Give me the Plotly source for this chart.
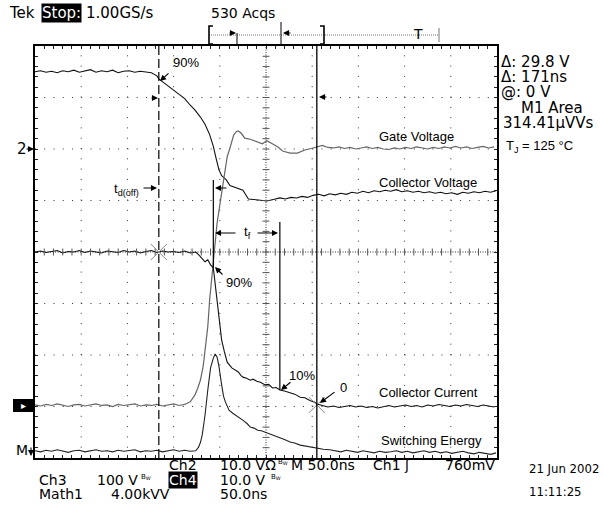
import plotly.graph_objects as go

# ---------------- data (time in ns from left edge, 50 ns/div; amplitude in divisions, 0 = bottom) ----
gate_t = [0, 6, 12, 18, 24, 30, 36, 42, 48, 54, 60, 66, 72, 78, 84, 90, 96, 102, 108, 114, 120, 126,
          132, 134, 140, 146, 151, 157, 162, 168, 173, 179, 184, 189, 193, 196, 199, 202, 207, 211, 218, 225,
          231, 239, 245, 251, 258, 265, 271, 277, 283, 289, 295,
          301, 307, 313, 319, 325, 331, 337, 343, 349, 355, 361, 367, 373, 379, 385, 391, 397, 403, 409, 415,
          421, 427, 433, 439, 445, 451, 457, 463, 469, 475, 481, 487, 493, 499]
gate_v = [7.50, 7.52, 7.49, 7.51, 7.48, 7.52, 7.50, 7.53, 7.49, 7.51, 7.54, 7.49, 7.52, 7.50, 7.53, 7.48,
          7.51, 7.52, 7.49, 7.51, 7.50, 7.48,
          7.42, 7.36, 7.28, 7.20, 7.14, 7.05, 6.98, 6.85, 6.76, 6.62, 6.48, 6.28, 6.05, 5.82, 5.60, 5.48,
          5.40, 5.29, 5.24, 5.20, 5.03, 5.01, 5.00, 4.99, 5.02, 5.05, 5.03, 5.06, 5.05, 5.08, 5.06,
          5.10, 5.12, 5.09, 5.13, 5.11, 5.14, 5.12, 5.16, 5.14, 5.18, 5.15, 5.19, 5.17, 5.20, 5.18, 5.21,
          5.17, 5.19, 5.16, 5.18, 5.15, 5.17, 5.14, 5.16, 5.13, 5.15, 5.12, 5.16, 5.14, 5.17, 5.15, 5.18,
          5.16, 5.19]

vce_t = [0, 6, 12, 18, 24, 30, 36, 42, 48, 54, 60, 66, 72, 78, 84, 90, 96, 102, 108, 114, 120, 126, 132,
         138, 144, 150, 156, 162,
         168, 173, 176, 179, 182, 184, 187, 189, 192, 195, 197, 200, 203, 206, 208, 211, 215, 218, 220, 223,
         227, 233, 240, 246, 251, 257, 263, 268, 276, 284, 292, 299,
         305, 311, 317, 323, 329, 335, 341, 347, 353, 359, 365, 371, 377, 383, 389, 395, 401, 407, 413, 419,
         425, 431, 437, 443, 449, 455, 461, 467, 473, 479, 485, 491, 497]
vce_v = [1.03, 1.01, 1.04, 1.02, 1.05, 1.02, 1.00, 1.03, 1.04, 1.01, 1.03, 1.05, 1.02, 1.03, 1.00, 1.04,
         1.02, 1.03, 1.05, 1.01, 1.03, 1.02, 1.04, 1.01, 1.03, 1.05, 1.02, 1.04,
         1.09, 1.22, 1.35, 1.51, 1.78, 2.10, 2.55, 3.07, 3.62, 4.14, 4.55, 4.91, 5.30, 5.63, 5.85, 6.02,
         6.27, 6.34, 6.35, 6.31, 6.21, 6.19, 6.14, 6.10, 6.16, 6.10, 6.04, 5.96, 5.92, 5.92, 5.98, 6.01,
         6.04, 6.07, 6.03, 6.02, 6.04, 6.01, 6.03, 6.00, 6.02, 6.04, 6.01, 6.03, 6.00, 5.99, 6.02, 6.00,
         6.03, 6.01, 6.04, 6.02, 6.00, 6.03, 6.01, 6.04, 6.02, 6.05, 6.02, 6.04, 6.01, 6.03, 6.05, 6.02, 6.04]

ic_t = [0, 6, 12, 18, 24, 30, 36, 42, 48, 54, 60, 66, 72, 78, 84, 90, 96, 102, 108, 114, 120, 126, 132,
        138, 144, 150, 156, 162, 168, 174,
        178, 181, 184, 187, 190, 193, 196, 199, 202, 205, 208, 213, 217, 220, 223, 225, 229, 233, 236, 240,
        244, 249, 253, 257, 261, 265, 270, 276, 281, 287, 292, 298, 302, 305,
        311, 317, 323, 329, 335, 341, 347, 353, 359, 365, 371, 377, 383, 389, 395, 401, 407, 413, 419, 425,
        431, 437, 443, 449, 455, 461, 467, 473, 479, 485, 491, 497]
ic_v = [4.00, 4.02, 3.99, 4.01, 4.03, 3.98, 4.01, 4.00, 4.03, 3.99, 4.02, 4.00, 3.98, 4.02, 4.01, 3.99,
        4.03, 4.00, 4.02, 3.98, 4.01, 4.03, 3.99, 4.02, 4.00, 4.01, 3.99, 4.02, 3.98, 4.00,
        3.93, 3.86, 3.81, 3.85, 3.75, 3.69, 3.26, 2.78, 2.29, 2.06, 1.86, 1.75, 1.70, 1.67, 1.60, 1.57,
        1.55, 1.51, 1.53, 1.49, 1.47, 1.42, 1.43, 1.36, 1.37, 1.32, 1.30, 1.26, 1.24, 1.18, 1.17, 1.11,
        1.09, 1.05,
        1.02, 0.99, 1.01, 0.98, 1.00, 1.02, 0.99, 1.01, 0.98, 1.00, 0.97, 1.00, 1.02, 0.99, 1.01, 1.03,
        1.00, 1.02, 0.99, 1.03, 1.01, 1.04, 1.02, 1.00, 1.03, 1.01, 1.04, 1.02, 1.00, 1.03, 1.01, 0.99]

pe_t = [0, 6, 12, 18, 24, 30, 36, 42, 48, 54, 60, 66, 72, 78, 84, 90, 96, 102, 108, 114, 120, 126, 132,
        138, 144, 150, 156, 162, 168, 174,
        177, 179, 181, 184, 187, 190, 193, 195, 197, 199, 202, 204, 206, 210, 214, 218, 222, 226, 230, 233,
        237, 241, 245, 251, 256, 260, 265, 270, 276, 281, 287, 293, 299, 305, 312, 319,
        325, 331, 337, 343, 349, 355, 361, 367, 373, 379, 385, 391, 397, 403, 409, 415, 421, 427, 433, 439,
        445, 451, 457, 463, 469, 475, 481, 487, 493, 499]
pe_v = [0.14, 0.12, 0.15, 0.13, 0.16, 0.13, 0.11, 0.14, 0.15, 0.12, 0.14, 0.16, 0.13, 0.14, 0.12, 0.15,
        0.13, 0.14, 0.16, 0.12, 0.14, 0.13, 0.15, 0.12, 0.14, 0.16, 0.13, 0.15, 0.13, 0.14,
        0.21, 0.30, 0.45, 0.83, 1.32, 1.75, 1.94, 2.02, 1.96, 1.79, 1.42, 1.20, 1.09, 0.93, 0.87, 0.82,
        0.78, 0.72, 0.66, 0.60, 0.58, 0.54, 0.53, 0.49, 0.46, 0.43, 0.39, 0.36, 0.31, 0.29, 0.25, 0.23,
        0.20, 0.19, 0.17, 0.16,
        0.14, 0.12, 0.15, 0.13, 0.11, 0.14, 0.12, 0.10, 0.13, 0.11, 0.12, 0.14, 0.11, 0.13, 0.10, 0.12,
        0.14, 0.11, 0.13, 0.10, 0.12, 0.09, 0.11, 0.13, 0.10, 0.08, 0.11, 0.09, 0.07, 0.10]

cursor_t = [134, 305]        # measurement cursors (ns)
cursor_d = [4.00, 1.03]
tf_start, tf_end = 193, 265  # fall-time markers (ns)

trace_labels = ["Gate Voltage", "Collector Voltage", "Collector Current", "Switching Energy"]

# ---------------- layout geometry ----------------
W, H = 604, 506
ML, MR, MT, MB = 35, 107, 46, 48
PW, PH = W - ML - MR, H - MT - MB
X0, X1, Y0, Y1 = 0, 500, 0, 8


def PX(px):
    return (px - ML) / PW


def PY(py):
    return (H - MB - py) / PH


def DY(py):
    return (H - MB - py) / PH * (Y1 - Y0)


SCOPE = "DejaVu Sans"
COND = "DejaVu Sans Condensed, DejaVu Sans"
ARIAL = "Liberation Sans, Arial"

fig = go.Figure()

# traces
fig.add_trace(go.Scatter(x=gate_t, y=gate_v, mode="lines", line=dict(color="#111", width=1.1), hoverinfo="skip"))
fig.add_trace(go.Scatter(x=vce_t, y=vce_v, mode="lines", line=dict(color="#666", width=1.2), hoverinfo="skip"))
fig.add_trace(go.Scatter(x=ic_t, y=ic_v, mode="lines", line=dict(color="#111", width=1.1), hoverinfo="skip"))
fig.add_trace(go.Scatter(x=pe_t, y=pe_v, mode="lines", line=dict(color="#222", width=1.1), hoverinfo="skip"))
fig.add_trace(go.Scatter(x=cursor_t, y=cursor_d, mode="markers", hoverinfo="skip",
                         marker=dict(symbol="x-thin", size=16, line=dict(width=1, color="#888"))))

# centre-line minor ticks
ctx = [i * 10 for i in range(1, 50)]
cty = [i * 0.2 for i in range(1, 40)]
fig.add_trace(go.Scatter(x=ctx, y=[4] * len(ctx), mode="markers", hoverinfo="skip",
                         marker=dict(symbol="line-ns", size=5, line=dict(width=1, color="#555"))))
fig.add_trace(go.Scatter(x=[250] * len(cty), y=cty, mode="markers", hoverinfo="skip",
                         marker=dict(symbol="line-ew", size=5, line=dict(width=1, color="#555"))))

shapes = []
# graticule
for k in range(1, 10):
    dash = "1px,1.5px" if k == 5 else "1px,9.3px"
    shapes.append(dict(type="line", xref="x", yref="y", x0=k * 50, x1=k * 50, y0=Y0, y1=Y1, layer="below",
                       line=dict(color="#333", width=1, dash=dash)))
for k in range(1, 8):
    dash = "1px,1.5px" if k == 4 else "1px,8.24px"
    shapes.append(dict(type="line", xref="x", yref="y", x0=X0, x1=X1, y0=k, y1=k, layer="below",
                       line=dict(color="#333", width=1, dash=dash)))
# cursors
shapes.append(dict(type="line", xref="x", yref="y", x0=cursor_t[0], x1=cursor_t[0], y0=Y0, y1=Y1,
                   line=dict(color="black", width=1.2, dash="9px,4px")))
shapes.append(dict(type="line", xref="x", yref="y", x0=cursor_t[1], x1=cursor_t[1], y0=Y0, y1=Y1,
                   line=dict(color="black", width=1.3)))
shapes.append(dict(type="line", xref="x", yref="y", x0=tf_start, x1=tf_start, y0=DY(268), y1=DY(180),
                   line=dict(color="black", width=1.2)))
shapes.append(dict(type="line", xref="x", yref="y", x0=tf_end, x1=tf_end, y0=DY(390), y1=DY(222),
                   line=dict(color="black", width=1.2)))
# record-length bar at top
shapes.append(dict(type="line", xref="paper", yref="paper", x0=PX(209), x1=PX(439), y0=PY(35), y1=PY(35),
                   line=dict(color="#777", width=1, dash="1px,1px")))
shapes.append(dict(type="line", xref="paper", yref="paper", x0=PX(281), x1=PX(281), y0=PY(22), y1=PY(46),
                   line=dict(color="black", width=1)))
shapes.append(dict(type="line", xref="paper", yref="paper", x0=PX(237), x1=PX(237), y0=PY(33), y1=PY(44),
                   line=dict(color="black", width=1)))
shapes.append(dict(type="line", xref="paper", yref="paper", x0=PX(439), x1=PX(439), y0=PY(28), y1=PY(42),
                   line=dict(color="#777", width=1)))
# brackets of the record bar
for bx, sgn in ((209, 1), (324, -1)):
    shapes.append(dict(type="path", xref="paper", yref="paper",
                       path="M %f,%f L %f,%f L %f,%f L %f,%f" % (PX(bx + 4 * sgn), PY(26), PX(bx), PY(26),
                                                                 PX(bx), PY(44), PX(bx + 4 * sgn), PY(44)),
                       line=dict(color="black", width=1.6)))
# Ch4 ground marker box
shapes.append(dict(type="rect", xref="paper", yref="paper", x0=PX(13), x1=PX(34), y0=PY(412), y1=PY(399),
                   fillcolor="black", line=dict(width=0)))

ann = []


def txt(px, py, s, size=14, family=SCOPE, anchor="left", color="black", bg=None):
    d = dict(xref="paper", yref="paper", x=PX(px), y=PY(py), text=s, showarrow=False, xanchor=anchor,
             yanchor="middle", font=dict(size=size, family=family, color=color), borderpad=0)
    if bg:
        d["bgcolor"] = bg
    ann.append(d)


def arrow(hx, hy, tx, ty):
    ann.append(dict(xref="paper", yref="paper", x=PX(hx), y=PY(hy), ax=tx - hx, ay=ty - hy, text="",
                    showarrow=True, arrowhead=2, arrowsize=1.1, arrowwidth=1.1, arrowcolor="black"))


# header
txt(8, 13, "Tek", size=15)
txt(41, 13, "Stop:", size=15, color="white", bg="black")
txt(85, 13, "1.00GS/s", size=15)
txt(210, 13, "530 Acqs")
txt(412, 34, "T", size=14)
arrow(236, 33, 228, 33)
arrow(283, 33, 292, 33)

# right readouts
txt(500, 62, "Δ: 29.8 V", size=15)
txt(500, 77, "Δ: 171ns", size=15)
txt(500, 92, "@: 0 V", size=15)
txt(520, 108, "M1 Area", size=15)
txt(502, 123, "314.41μVVs", size=15)
txt(505, 146, "T<sub>J</sub> = 125 °C", size=13, family=ARIAL)

# left channel markers
txt(16, 149, "2", size=15)
arrow(34, 149, 25, 149)
txt(23, 405, "▸", size=10, anchor="center", color="white")
txt(15, 450, "M", size=14)
arrow(31, 456, 31, 446)

# trace labels
txt(378, 136, trace_labels[0], size=13, family=ARIAL)
txt(378, 183, trace_labels[1], size=13, family=ARIAL)
txt(378, 392, trace_labels[2], size=13, family=ARIAL)
txt(380, 440, trace_labels[3], size=13, family=ARIAL)

# measurement annotations
txt(172, 63, "90%", size=13, family=ARIAL)
arrow(160, 81, 170, 72)
arrow(158, 98, 150, 98)
arrow(319, 97, 328, 97)
txt(113, 190, "t<sub>d(off)</sub>", size=13, family=ARIAL)
arrow(157, 188, 142, 188)
arrow(215, 188, 228, 188)
txt(243, 232, "t<sub>f</sub>", size=13, family=ARIAL)
arrow(215, 233, 237, 233)
arrow(278, 233, 256, 233)
txt(225, 282, "90%", size=13, family=ARIAL)
arrow(215, 267, 224, 276)
txt(288, 375, "10%", size=13, family=ARIAL)
arrow(281, 390, 292, 381)
txt(339, 387, "0", size=13, family=ARIAL)
arrow(320, 403, 336, 391)

# bottom status lines
txt(168, 465, "Ch2")
txt(219, 465, "10.0 VΩ")
txt(277, 462, "B<sub>W</sub>", size=7)
txt(290, 465, "M 50.0ns")
txt(372, 465, "Ch1 ʃ")
txt(444, 465, "760mV")
txt(38, 480, "Ch3")
txt(96, 480, "100 V")
txt(140, 477, "B<sub>W</sub>", size=7)
txt(168, 480, "Ch4", color="white", bg="black")
txt(219, 480, "10.0 V")
txt(270, 477, "B<sub>W</sub>", size=7)
txt(38, 494, "Math1")
txt(110, 494, "4.00kVV")
txt(219, 494, "50.0ns")
txt(528, 468, "21 Jun 2002", size=13, family=COND)
txt(528, 491, "11:11:25", size=13, family=COND)

axis_common = dict(showgrid=False, zeroline=False, showticklabels=False, showline=True, linecolor="black",
                   linewidth=1.5, mirror="ticks", ticks="inside", ticklen=3, tickcolor="#222", tickwidth=1,
                   fixedrange=True)
fig.update_layout(
    width=W, height=H, margin=dict(l=ML, r=MR, t=MT, b=MB), paper_bgcolor="white", plot_bgcolor="white",
    showlegend=False,
    xaxis=dict(range=[X0, X1], dtick=10, tick0=0, **axis_common),
    yaxis=dict(range=[Y0, Y1], dtick=0.2, tick0=0, **axis_common),
    shapes=shapes, annotations=ann,
)
fig.write_html("out.html")
